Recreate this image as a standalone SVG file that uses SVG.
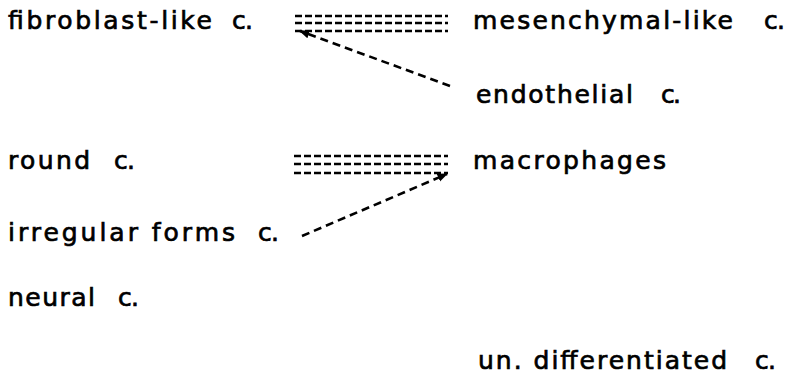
<svg xmlns="http://www.w3.org/2000/svg" width="789" height="379" viewBox="0 0 789 379">
<style>
text{font-family:"DejaVu Sans","Liberation Sans",sans-serif;font-size:25px;fill:#000;stroke:#000;stroke-width:0.7}
.d{stroke:#000;stroke-width:2.6;fill:none;stroke-dasharray:8 5}
.t{stroke:#000;stroke-width:2.4;fill:none;stroke-dasharray:7 3}
</style>
<defs>
<marker id="ah" viewBox="0 0 10 10" refX="9" refY="5" markerWidth="4" markerHeight="4" orient="auto-start-reverse">
<path d="M0,1 L10,5 L0,9 z" fill="#000"/>
</marker>
</defs>
<rect width="789" height="379" fill="#fff"/>
<g id="n-fibroblast"><text y="29"><tspan x="8" textLength="204" lengthAdjust="spacing">fibroblast-like</tspan> <tspan x="232" textLength="21" lengthAdjust="spacing">c.</tspan></text></g>
<g id="n-mesenchymal"><text y="29"><tspan x="473" textLength="260" lengthAdjust="spacing">mesenchymal-like</tspan> <tspan x="764" textLength="21" lengthAdjust="spacing">c.</tspan></text></g>
<g id="n-endothelial"><text y="103"><tspan x="476" textLength="157" lengthAdjust="spacing">endothelial</tspan> <tspan x="661" textLength="20" lengthAdjust="spacing">c.</tspan></text></g>
<g id="n-round"><text y="169"><tspan x="8" textLength="82" lengthAdjust="spacing">round</tspan> <tspan x="114" textLength="21" lengthAdjust="spacing">c.</tspan></text></g>
<g id="n-macrophages"><text y="169"><tspan x="473" textLength="193" lengthAdjust="spacing">macrophages</tspan></text></g>
<g id="n-irregular"><text y="241"><tspan x="8" textLength="227" lengthAdjust="spacing">irregular forms</tspan> <tspan x="258" textLength="21" lengthAdjust="spacing">c.</tspan></text></g>
<g id="n-neural"><text y="306"><tspan x="8" textLength="87" lengthAdjust="spacing">neural</tspan> <tspan x="118" textLength="21" lengthAdjust="spacing">c.</tspan></text></g>
<g id="n-undiff"><text y="369"><tspan x="478" textLength="249" lengthAdjust="spacing">un. differentiated</tspan> <tspan x="755" textLength="21" lengthAdjust="spacing">c.</tspan></text></g>
<g id="connectors">
<path class="t" d="M295,16 H448 M295,23 H448 M295,31 H448"/>
<path class="d" d="M450,86 L300,31" marker-end="url(#ah)"/>
<path class="t" d="M294,156 H448 M294,164 H448 M294,173 H448"/>
<path class="d" d="M302,236 L447,174" marker-end="url(#ah)"/>
</g>
</svg>
